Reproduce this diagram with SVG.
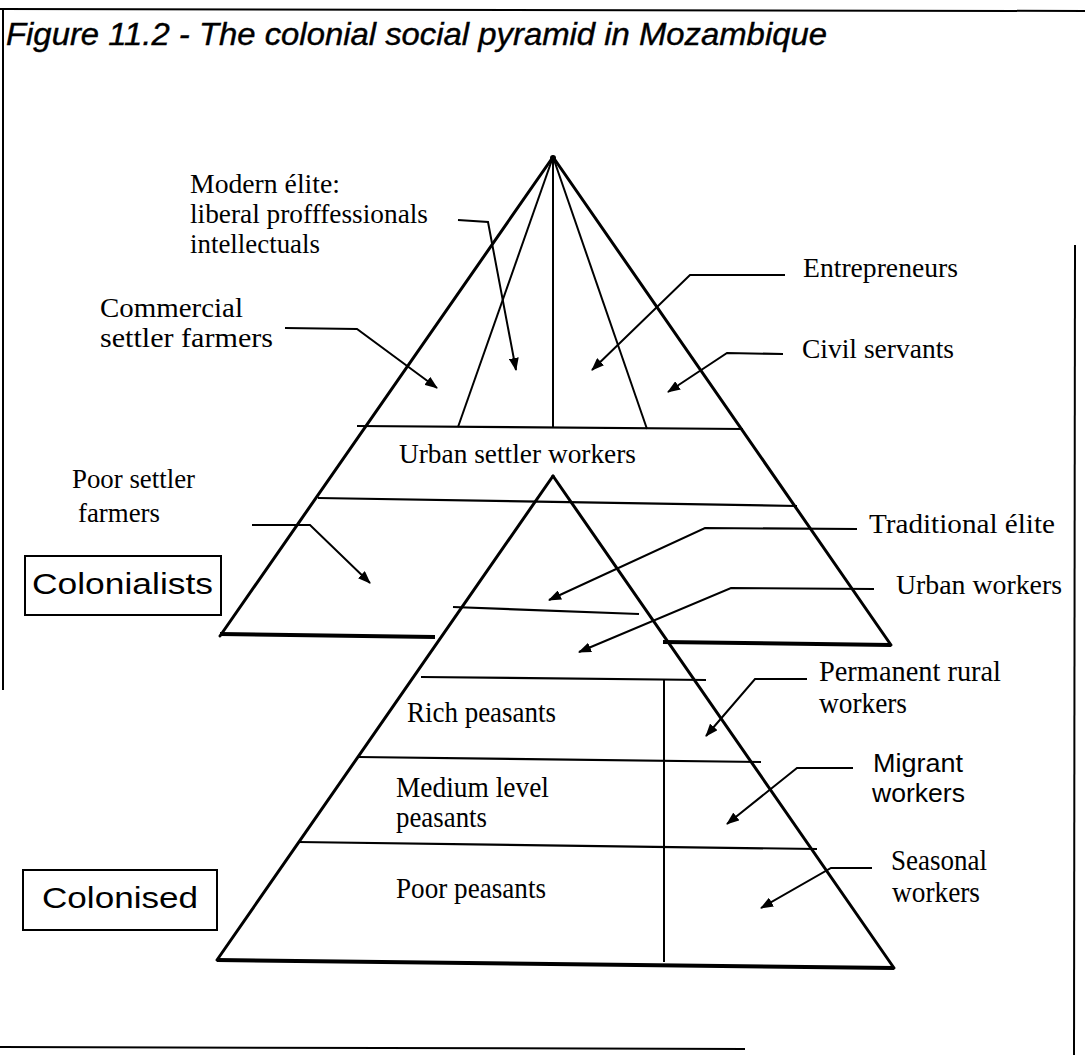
<svg xmlns="http://www.w3.org/2000/svg" width="1085" height="1055" viewBox="0 0 1085 1055">
<style>
.bg{fill:#fff}
.frame{stroke:#000;stroke-width:2;fill:none}
.side{stroke:#000;stroke-width:3;fill:none;stroke-linecap:round}
.base{stroke:#000;stroke-width:4;fill:none}
.tier{stroke:#000;stroke-width:2.2;fill:none}
.ray{stroke:#000;stroke-width:2;fill:none}
.arrow{stroke:#000;stroke-width:2;fill:none;marker-end:url(#ah)}
.serif{font-family:"Liberation Serif","Times New Roman",serif;font-size:27px;fill:#000}
.tall{font-size:29px}
.sans{font-family:"Liberation Sans",Arial,sans-serif;font-size:26px;fill:#000}
.title{font-family:"Liberation Sans",Arial,sans-serif;font-size:31px;font-style:italic;fill:#000;stroke:#000;stroke-width:0.4}
.box{stroke:#000;stroke-width:2;fill:#fff}
.boxtext{font-family:"Liberation Sans",Arial,sans-serif;font-size:30px;fill:#000}
</style>
<defs>
<marker id="ah" markerUnits="userSpaceOnUse" markerWidth="13" markerHeight="10" refX="12" refY="5" orient="auto">
<path d="M0,0 L13,5 L0,10 z" fill="#000"/>
</marker>
</defs>
<rect class="bg" x="0" y="0" width="1085" height="1055"/>
<g id="frame">
<line class="frame" x1="0" y1="9" x2="1085" y2="11"/>
<line class="frame" x1="3" y1="9" x2="3" y2="690"/>
<line class="frame" x1="1075" y1="245" x2="1074" y2="1055"/>
<line class="frame" x1="0" y1="1047" x2="745" y2="1049"/>
</g>
<g id="title">
<text class="title" x="6" y="45" textLength="821" lengthAdjust="spacingAndGlyphs">Figure 11.2 -  The colonial social pyramid in Mozambique</text>
</g>
<g id="pyramid-colonialists">
<line class="ray" x1="553" y1="157" x2="458" y2="427"/>
<line class="ray" x1="553" y1="157" x2="553" y2="427"/>
<line class="ray" x1="553" y1="157" x2="647" y2="429"/>
<line class="tier" x1="357" y1="426" x2="743" y2="429"/>
<line class="tier" x1="318" y1="498" x2="797" y2="506"/>
<line class="side" x1="553" y1="157" x2="220" y2="636"/>
<line class="side" x1="553" y1="157" x2="891" y2="645"/>
<line class="base" x1="220" y1="634" x2="435" y2="637"/>
<line class="base" x1="663" y1="642" x2="891" y2="645"/>
<circle cx="553" cy="158" r="3" fill="#000"/>
</g>
<g id="pyramid-colonised">
<line class="tier" x1="453" y1="607" x2="639" y2="614"/>
<line class="tier" x1="421" y1="677" x2="706" y2="680"/>
<line class="ray" x1="664" y1="680" x2="664" y2="962"/>
<line class="tier" x1="358" y1="757" x2="761" y2="762"/>
<line class="tier" x1="298" y1="842" x2="817" y2="849"/>
<line class="side" x1="553" y1="476" x2="217" y2="960"/>
<line class="side" x1="553" y1="476" x2="894" y2="968"/>
<line class="base" x1="217" y1="960" x2="894" y2="968"/>
</g>
<g id="connectors">
<polyline class="arrow" points="458,220 488,222 516,370"/>
<polyline class="arrow" points="285,328 357,329 437,388"/>
<polyline class="arrow" points="785,275 690,275 592,370"/>
<polyline class="arrow" points="783,354 727,353 668,392"/>
<polyline class="arrow" points="252,525 310,525 370,583"/>
<polyline class="arrow" points="857,529 705,528 549,600"/>
<polyline class="arrow" points="874,589 731,588 579,652"/>
<polyline class="arrow" points="807,679 755,679 706,736"/>
<polyline class="arrow" points="853,768 797,768 727,824"/>
<polyline class="arrow" points="872,868 831,868 761,908"/>
</g>
<g id="label-modern-elite">
<text class="serif" x="190" y="193" textLength="150" lengthAdjust="spacingAndGlyphs">Modern élite:</text>
<text class="serif" x="190" y="223" textLength="238" lengthAdjust="spacingAndGlyphs">liberal profffessionals</text>
<text class="serif" x="190" y="253" textLength="130" lengthAdjust="spacingAndGlyphs">intellectuals</text>
</g>
<g id="label-commercial">
<text class="serif" x="100" y="317" textLength="143" lengthAdjust="spacingAndGlyphs">Commercial</text>
<text class="serif" x="100" y="347" textLength="173" lengthAdjust="spacingAndGlyphs">settler farmers</text>
</g>
<g id="label-entrepreneurs">
<text class="serif" x="803" y="277" textLength="155" lengthAdjust="spacingAndGlyphs">Entrepreneurs</text>
</g>
<g id="label-civil-servants">
<text class="serif" x="802" y="358" textLength="152" lengthAdjust="spacingAndGlyphs">Civil servants</text>
</g>
<g id="label-urban-settler-workers">
<text class="serif" x="399" y="463" textLength="237" lengthAdjust="spacingAndGlyphs">Urban settler workers</text>
</g>
<g id="label-poor-settler-farmers">
<text class="serif" x="72" y="488" textLength="123" lengthAdjust="spacingAndGlyphs">Poor settler</text>
<text class="serif" x="78" y="522" textLength="82" lengthAdjust="spacingAndGlyphs">farmers</text>
</g>
<g id="box-colonialists">
<rect class="box" x="25" y="556" width="196" height="59"/>
<text class="boxtext" x="32" y="594" textLength="181" lengthAdjust="spacingAndGlyphs">Colonialists</text>
</g>
<g id="label-traditional-elite">
<text class="serif" x="869" y="533" textLength="186" lengthAdjust="spacingAndGlyphs">Traditional élite</text>
</g>
<g id="label-urban-workers">
<text class="serif" x="896" y="594" textLength="166" lengthAdjust="spacingAndGlyphs">Urban workers</text>
</g>
<g id="label-permanent-rural-workers">
<text class="serif tall" x="819" y="681" textLength="182" lengthAdjust="spacingAndGlyphs">Permanent rural</text>
<text class="serif tall" x="819" y="713" textLength="88" lengthAdjust="spacingAndGlyphs">workers</text>
</g>
<g id="label-rich-peasants">
<text class="serif tall" x="407" y="722" textLength="149" lengthAdjust="spacingAndGlyphs">Rich peasants</text>
</g>
<g id="label-medium-peasants">
<text class="serif tall" x="396" y="797" textLength="153" lengthAdjust="spacingAndGlyphs">Medium level</text>
<text class="serif tall" x="396" y="827" textLength="91" lengthAdjust="spacingAndGlyphs">peasants</text>
</g>
<g id="label-poor-peasants">
<text class="serif tall" x="396" y="898" textLength="150" lengthAdjust="spacingAndGlyphs">Poor peasants</text>
</g>
<g id="label-migrant-workers">
<text class="sans" x="873" y="772" textLength="90" lengthAdjust="spacingAndGlyphs">Migrant</text>
<text class="sans" x="872" y="802" textLength="93" lengthAdjust="spacingAndGlyphs">workers</text>
</g>
<g id="label-seasonal-workers">
<text class="serif tall" x="891" y="870" textLength="96" lengthAdjust="spacingAndGlyphs">Seasonal</text>
<text class="serif tall" x="892" y="902" textLength="88" lengthAdjust="spacingAndGlyphs">workers</text>
</g>
<g id="box-colonised">
<rect class="box" x="23" y="870" width="194" height="60"/>
<text class="boxtext" x="42" y="908" textLength="156" lengthAdjust="spacingAndGlyphs">Colonised</text>
</g>
</svg>
